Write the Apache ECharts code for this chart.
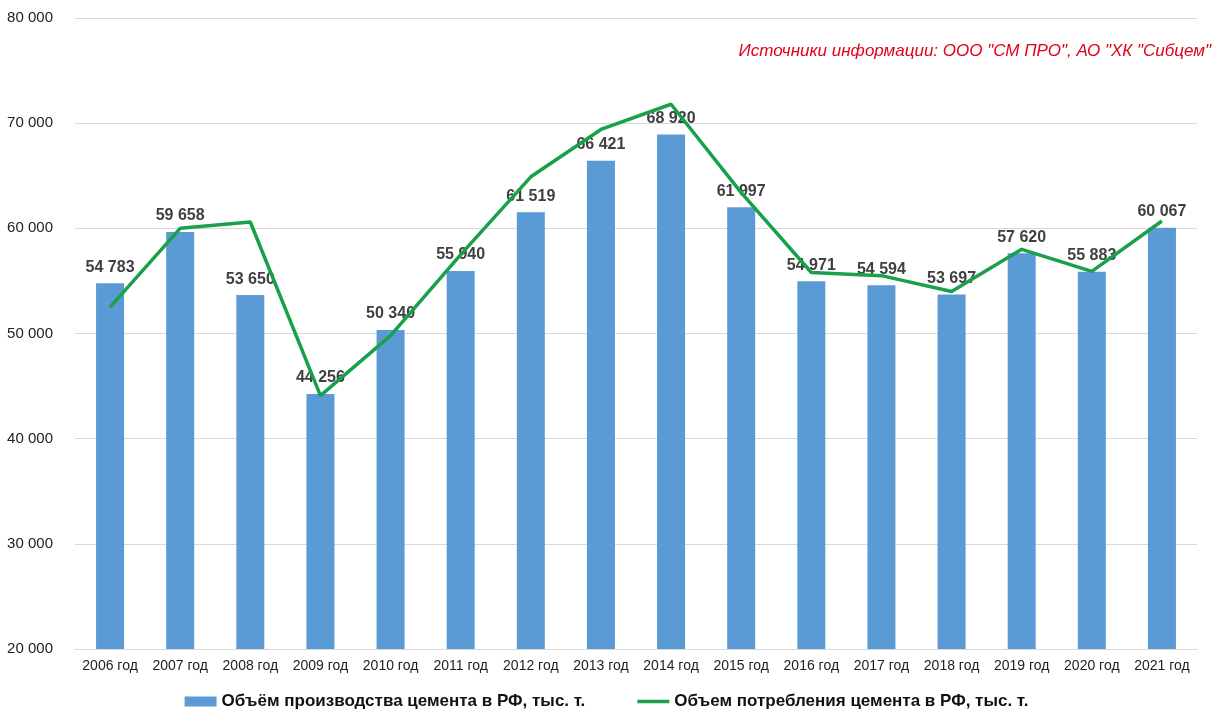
<!DOCTYPE html>
<html>
<head>
<meta charset="utf-8">
<script src="https://cdn.jsdelivr.net/npm/echarts@6/dist/echarts.min.js"></script>
<style>
html,body{margin:0;padding:0;background:#fff;}
#chart{width:1213px;height:721px;}
</style>
</head>
<body>
<div id="chart"></div>
<script>
const categories = ['2006 год','2007 год','2008 год','2009 год','2010 год','2011 год','2012 год','2013 год','2014 год','2015 год','2016 год','2017 год','2018 год','2019 год','2020 год','2021 год'];
const production = [54783, 59658, 53650, 44256, 50340, 55940, 61519, 66421, 68920, 61997, 54971, 54594, 53697, 57620, 55883, 60067];
const consumption = [52500, 60000, 60600, 44100, 49800, 57500, 64900, 69400, 71800, 63400, 55800, 55500, 54000, 58000, 55900, 60700];
const productionName = 'Объём производства цемента в РФ, тыс. т.';
const consumptionName = 'Объем потребления цемента в РФ, тыс. т.';
const sourceText = 'Источники информации: ООО "СМ ПРО", АО "ХК "Сибцем"';

function fmt(v){ return String(v).replace(/\B(?=(\d{3})+(?!\d))/g, ' '); }

const chart = echarts.init(document.getElementById('chart'), null, {renderer:'canvas'});
chart.setOption({
  animation:false,
  backgroundColor:'#ffffff',
  textStyle:{fontFamily:'"Liberation Sans", Arial, sans-serif'},
  grid:{left:75, right:16, top:18, bottom:72, containLabel:false},
  legend:{
    bottom:6, left:'center',
    itemWidth:32, itemHeight:10, itemGap:52,
    symbolKeepAspect:true,
    textStyle:{fontSize:17, fontWeight:'bold', color:'#111'},
    data:[
      {name:productionName, icon:'rect'},
      {name:consumptionName, icon:'path://M0,0H32V3.5H0Z', itemStyle:{color:'#19a04b'}}
    ]
  },
  graphic:[{
    type:'text', right:2, top:43,
    style:{text:sourceText, fill:'#e3001b', font:'italic 17px "Liberation Sans", Arial, sans-serif'}
  }],
  xAxis:{
    type:'category', data:categories,
    axisLine:{lineStyle:{color:'#d9d9d9'}},
    axisTick:{show:false},
    axisLabel:{fontSize:14, color:'#222', margin:10, interval:0}
  },
  yAxis:{
    type:'value', min:20000, max:80000, interval:10000,
    axisLine:{show:false}, axisTick:{show:false},
    splitLine:{lineStyle:{color:'#d9d9d9'}},
    axisLabel:{fontSize:15, color:'#222', margin:22, formatter:fmt}
  },
  series:[
    {
      name:productionName, type:'bar', data:production, barWidth:28, z:2,
      itemStyle:{color:'#5b9bd5'},
      label:{show:true, position:'top', distance:8, fontSize:16, fontWeight:'bold', color:'#404040', formatter:p=>fmt(p.value)}
    },
    {
      name:consumptionName, type:'line', data:consumption, z:3,
      symbol:'none', lineStyle:{color:'#19a04b', width:3.5}, itemStyle:{color:'#19a04b'}
    }
  ]
});
</script>
</body>
</html>
